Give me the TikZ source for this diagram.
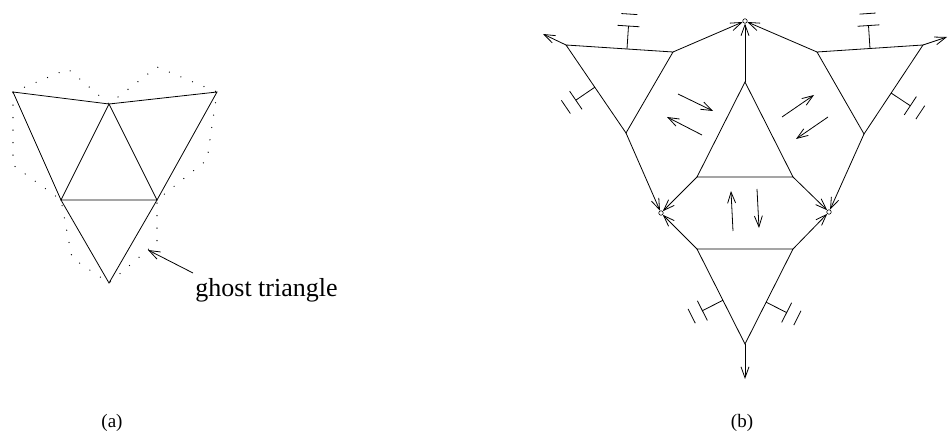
\documentclass[tikz,border=0pt]{standalone}
\usepackage{fontspec}
\setmainfont{Liberation Serif}
\usetikzlibrary{arrows.meta,calc}
\newcommand\gstub[3]{%
  \coordinate (s0) at ($(#1)!#3!(#2)$);
  \coordinate (s1) at ($(s0)!23pt!90:(#2)$);
  \coordinate (s2) at ($(s0)!35pt!90:(#2)$);
  \draw (s0) -- (s1);
  \draw ($(s1)!11pt!90:(s0)$) -- ($(s1)!11pt!-90:(s0)$);
  \draw ($(s2)!8pt!90:(s0)$) -- ($(s2)!8pt!-90:(s0)$);
}
\begin{document}
\begin{tikzpicture}[x=1pt,y=-1pt,line width=0.8pt,
  arr/.style={-{Straight Barb[length=11pt,width=8pt]}},
  ghost/.style={line width=1.3pt,dash pattern=on 0pt off 12.5pt,line cap=round},
  vnode/.style={circle,draw,inner sep=0pt,minimum size=4.5pt,line width=0.6pt},
  lab/.style={font=\fontsize{19}{23}\selectfont,inner sep=0pt},
  biglab/.style={font=\fontsize{26}{30}\selectfont,inner sep=0pt}]
\useasboundingbox (0,0) rectangle (948,438);

% ---------- panel (a) ----------
\coordinate (A1) at (13,92);
\coordinate (A2) at (109,104);
\coordinate (A3) at (217,92);
\coordinate (A4) at (61,200);
\coordinate (A5) at (157,200);
\coordinate (A6) at (109,283);
\draw (A1) -- (A2) -- (A3) -- (A5) -- (A6) -- (A4) -- cycle;
\draw (A2) -- (A4) -- (A5) -- cycle;
\draw[ghost] (A1) -- (68,69) -- (A2) -- (157,67) -- (A3) -- (207,160) -- (A5)
  -- (157,242) -- (A6) -- (72,258) -- (A4) -- (13,165) -- cycle;
\node[biglab,anchor=base west] (gt) at (195,297) {ghost triangle};
\coordinate (gtail) at (193,273);
\coordinate (gtip) at (148,250);
\draw[arr] (gtail) -- (gtip);
\node[lab,anchor=base] (la) at (112,427) {(a)};

% ---------- panel (b) ----------
\node[vnode] (T) at (745,21) {};
\node[vnode] (L) at (661,213) {};
\node[vnode] (R) at (829,212) {};
% central triangle
\coordinate (CT) at (745,82);
\coordinate (CBL) at (697,177);
\coordinate (CBR) at (793,177);
\draw (CT) -- (CBL) -- (CBR) -- cycle;
% bottom triangle
\coordinate (BTL) at (697,249);
\coordinate (BTR) at (793,249);
\coordinate (Bb) at (745,344);
\draw (BTL) -- (BTR) -- (Bb) -- cycle;
% upper-left triangle
\coordinate (ULl) at (566,45);
\coordinate (ULr) at (673,52);
\coordinate (ULb) at (626,133);
\draw (ULl) -- (ULr) -- (ULb) -- cycle;
% upper-right triangle
\coordinate (URl) at (817,52);
\coordinate (URr) at (923,45);
\coordinate (URb) at (864,134);
\draw (URl) -- (URr) -- (URb) -- cycle;
% free ends
\coordinate (oUL) at (543,34);
\coordinate (oUR) at (947,37);
\coordinate (oB) at (745,379);
% connectors
\draw[arr] (CT) -- (T);
\draw[arr] (ULr) -- (T);
\draw[arr] (URl) -- (T);
\draw[arr] (ULb) -- (L);
\draw[arr] (CBL) -- (L);
\draw[arr] (BTL) -- (L);
\draw[arr] (URb) -- (R);
\draw[arr] (CBR) -- (R);
\draw[arr] (BTR) -- (R);
\draw[arr] (ULl) -- (oUL);
\draw[arr] (URr) -- (oUR);
\draw[arr] (Bb) -- (oB);
% gauge stubs
\gstub{ULl}{ULr}{0.57}
\gstub{ULb}{ULl}{0.52}
\gstub{URl}{URr}{0.5}
\gstub{URr}{URb}{0.54}
\gstub{Bb}{BTL}{0.46}
\gstub{BTR}{Bb}{0.56}
% interior arrows
\coordinate (p1) at (678,94);  \coordinate (q1) at (713,111);
\coordinate (p2) at (702,135); \coordinate (q2) at (667,117);
\coordinate (p3) at (782,117); \coordinate (q3) at (814,95);
\coordinate (p4) at (828,117); \coordinate (q4) at (796,139);
\coordinate (p5) at (733,231); \coordinate (q5) at (731,191);
\coordinate (p6) at (757,189); \coordinate (q6) at (759,228);
\foreach \i in {1,...,6} \draw[arr] (p\i) -- (q\i);
\node[lab,anchor=base] (lb) at (742,427) {(b)};
\end{tikzpicture}
\end{document}
